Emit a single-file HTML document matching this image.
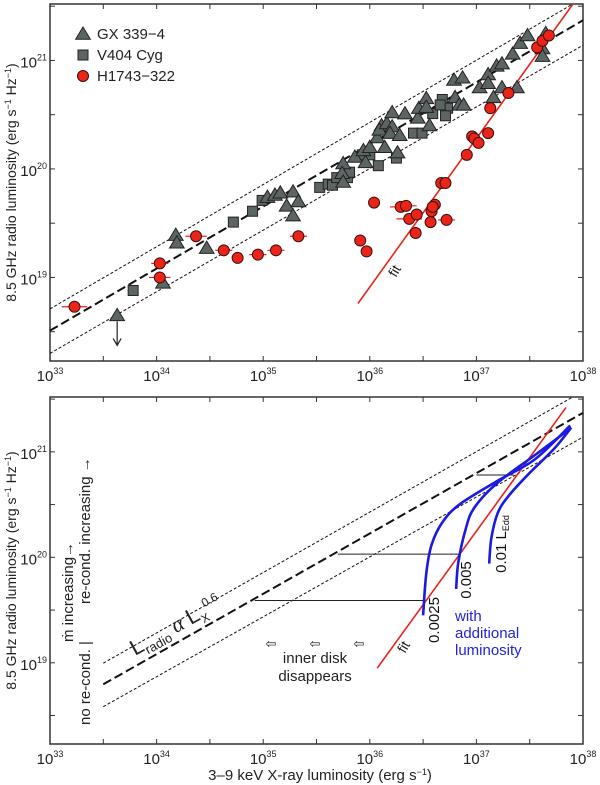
<!DOCTYPE html>
<html><head><meta charset="utf-8"><style>
body{margin:0;background:#fff;}
svg{display:block;font-family:"Liberation Sans",sans-serif;}
</style></head><body>
<svg id="chart" width="600" height="785" viewBox="0 0 600 785" xmlns="http://www.w3.org/2000/svg"></svg>
<script>
// ---- data (log10 units) ----
const gxX = [33.63,34.18,34.19,34.06,34.47,35.28,35.22,35.28,35.33,35.04,35.11,35.16,35.75,35.74,35.75,35.86,35.94,35.96,36.00,36.07,36.11,36.09,36.14,36.16,36.21,36.19,36.28,36.26,36.21,36.33,36.45,36.46,36.53,36.53,36.56,36.80,36.84,36.88,36.79,36.87,37.03,37.11,37.11,37.16,37.24,37.19,37.24,37.34,37.38,37.41,37.48,37.65,37.62,37.62];
const gxY = [18.65,19.39,19.32,18.95,19.27,19.79,19.66,19.57,19.70,19.74,19.76,19.78,20.05,19.96,19.88,20.11,20.17,20.06,20.20,20.29,20.40,20.36,20.20,20.42,20.39,20.33,20.31,20.15,20.52,20.51,20.47,20.56,20.65,20.57,20.40,20.66,20.59,20.59,20.82,20.84,20.75,20.87,20.79,20.66,20.75,20.95,20.97,21.06,20.75,21.16,21.23,21.25,21.11,21.04];
const v404X = [33.78,34.72,34.90,34.99,35.53,35.61,35.65,35.79,35.81,35.69,35.93,36.00,36.08,36.25,36.41,36.49,36.59,36.68,36.73,36.71,36.66];
const v404Y = [18.88,19.51,19.61,19.71,19.83,19.86,19.85,19.92,19.97,19.92,20.13,20.13,20.03,20.10,20.33,20.33,20.51,20.64,20.56,20.49,20.59];
const hX = [33.23,34.03,34.03,34.37,34.63,34.76,34.95,35.12,35.33,36.04,35.91,35.97,36.29,36.34,36.37,36.44,36.43,36.57,36.58,36.61,36.59,36.72,36.67,36.71,36.91,36.96,36.98,37.02,37.11,37.13,37.30,37.57,37.62,37.68];
const hY = [18.73,19.13,19.00,19.38,19.25,19.18,19.21,19.25,19.38,19.69,19.34,19.24,19.65,19.66,19.54,19.58,19.41,19.51,19.61,19.67,19.65,19.53,19.87,19.87,20.13,20.30,20.28,20.24,20.33,20.56,20.70,21.12,21.18,21.23];
const hErr = [0.12,0.08,0.1,0.1,0.08,0,0.08,0.08,0.08,0,0,0,0.1,0.1,0.12,0,0,0,0,0,0,0.08,0,0,0,0,0,0,0,0,0,0,0,0];
const relInt = 18.51, relSlope = 0.572;
const upInt = 18.71, upSlope = 0.573;
const loInt = 18.30, loSlope = 0.568;
const fitX = [35.889, 37.906];
const fitY = [18.76, 21.52];
const fit2X = [36.07, 37.84];
const fit2Y = [18.95, 21.42];
const c1X = [36.50,36.53,36.58,36.68,36.84,37.19,37.55,37.88];
const c1Y = [19.45,19.85,20.12,20.33,20.50,20.72,20.93,21.25];
const c2X = [36.81,36.83,36.90,36.98,37.19,37.55,37.88];
const c2Y = [19.70,19.95,20.27,20.47,20.70,20.97,21.22];
const c3X = [37.12,37.14,37.20,37.30,37.48,37.73,37.89];
const c3Y = [19.94,20.18,20.42,20.58,20.78,21.03,21.23];
const hlX0 = [35.70,34.92,37.00];
const hlX1 = [36.84,36.51,37.35];
const hlY = [20.03,19.59,20.78];
const xTicks = [33,34,35,36,37,38];
const yTicks = [19,20,21];

const NS = "http://www.w3.org/2000/svg";
const svg = document.getElementById('chart');
function el(tag, attrs, parent){const e=document.createElementNS(NS,tag);for(const k in attrs)e.setAttribute(k,attrs[k]);(parent||svg).appendChild(e);return e;}
const X0=50,X1=583,LX0=33,LX1=38,LY0=18.23,LY1=21.52;
function panel(top,bottom){
  return {x:v=>X0+(v-LX0)/(LX1-LX0)*(X1-X0), y:v=>bottom-(v-LY0)/(LY1-LY0)*(bottom-top), top, bottom};
}
const P1=panel(4,361), P2=panel(397,744);

function axes(P,name){
  const g=el('g',{});
  
  
  const r=el('rect',{x:X0,y:P.top,width:X1-X0,height:P.bottom-P.top,fill:'none',stroke:'#333','stroke-width':1.5},g);
  
  
  for(let v=33;v<=38.01;v+=0.5){
    const x=P.x(v);
    el('line',{x1:x,y1:P.bottom,x2:x,y2:P.bottom-5,stroke:'#333','stroke-width':1},g);
    el('line',{x1:x,y1:P.top,x2:x,y2:P.top+5,stroke:'#333','stroke-width':1},g);
  }
  for(let v=18.5;v<=21.51;v+=0.5){
    const y=P.y(v);
    el('line',{x1:X0,y1:y,x2:X0+5,y2:y,stroke:'#333','stroke-width':1},g);
    el('line',{x1:X1,y1:y,x2:X1-5,y2:y,stroke:'#333','stroke-width':1},g);
  }
  xTicks.forEach(v=>{
    const t=el('text',{x:P.x(v),y:P.bottom+20,'font-size':15,'text-anchor':'middle',fill:'#222'},g);
    
    
    t.innerHTML='10<tspan font-size="9" dy="-7">'+v+'</tspan>';
  });
  yTicks.forEach(v=>{
    const t=el('text',{x:X0-3,y:P.y(v)+7,'font-size':15,'text-anchor':'end',fill:'#222'},g);
    
    
    t.innerHTML='10<tspan font-size="9" dy="-7">'+v+'</tspan>';
  });
  const yl=el('text',{x:0,y:0,'font-size':14,'text-anchor':'middle',fill:'#222',transform:'translate(16,'+((P.top+P.bottom)/2)+') rotate(-90)'},g);
  
  
  yl.innerHTML='8.5 GHz  radio luminosity  (erg s<tspan font-size="9" dy="-5">−1</tspan><tspan dy="5"> Hz</tspan><tspan font-size="9" dy="-5">−1</tspan><tspan dy="5">)</tspan>';
}
function relLine(P,a,b,x0,x1,w,dash,name){
  const l=el('line',{x1:P.x(x0),y1:P.y(a+b*(x0-33)),x2:P.x(x1),y2:P.y(a+b*(x1-33)),stroke:'#111','stroke-width':w,'stroke-dasharray':dash});
  
  
}
function clipX(a,b,P){
  return Math.min(38,33+(LY1-a)/b);
}
// ---- top panel ----
axes(P1,'top');
relLine(P1,upInt,upSlope,33,clipX(upInt,upSlope),1,'3,2','upper-bound-line');
relLine(P1,loInt,loSlope,33,38,1,'3,2','lower-bound-line');
relLine(P1,relInt,relSlope,33,38,2,'9,4','correlation-line');
const fl=el('line',{x1:P1.x(fitX[0]),y1:P1.y(fitY[0]),x2:P1.x(fitX[1]),y2:P1.y(fitY[1]),stroke:'#e8231b','stroke-width':1.6});


const ft=el('text',{x:0,y:0,'font-size':14,fill:'#222',transform:'translate(396,278) rotate(-60)'});


ft.textContent='fit';
{const x=P1.x(gxX[0]),y=P1.y(gxY[0]);
 const a=el('path',{d:'M'+x+' '+(y+6)+' V'+(y+30)+' M'+(x-4)+' '+(y+23)+' L'+x+' '+(y+30)+' L'+(x+4)+' '+(y+23),stroke:'#222',fill:'none','stroke-width':1.2});
 
 }
function tri(cx,cy,s){return 'M'+cx+' '+(cy-s)+' L'+(cx+s*1.05)+' '+(cy+s*0.75)+' L'+(cx-s*1.05)+' '+(cy+s*0.75)+' Z';}
v404X.forEach((v,i)=>{
  const r=el('rect',{x:P1.x(v)-5,y:P1.y(v404Y[i])-5,width:10,height:10,fill:'#5d6564',stroke:'#222','stroke-width':1});
  
  
});
gxX.forEach((v,i)=>{
  const p=el('path',{d:tri(P1.x(v),P1.y(gxY[i]),7),fill:'#5d6564',stroke:'#222','stroke-width':1});
  
  
});
hX.forEach((v,i)=>{
  const cx=P1.x(v),cy=P1.y(hY[i]);
  if(hErr[i]>0){
    const e=el('line',{x1:P1.x(v-hErr[i]),y1:cy,x2:P1.x(v+hErr[i]),y2:cy,stroke:'#e8231b','stroke-width':1.2});
    
    
  }
  const c=el('circle',{cx:cx,cy:cy,r:5.5,fill:'#ec2418',stroke:'#3a1010','stroke-width':1});
  
  
});
{
 const g=el('g',{});
 
 
 el('path',{d:tri(83,34,7),fill:'#5d6564',stroke:'#222'},g);
 el('rect',{x:78,y:50,width:10,height:10,fill:'#5d6564',stroke:'#222'},g);
 el('circle',{cx:83,cy:76,r:5.5,fill:'#ec2418',stroke:'#3a1010'},g);
 [['GX 339−4',39],['V404 Cyg',60],['H1743−322',81]].forEach(a=>{
  const t=el('text',{x:97,y:a[1],'font-size':15,fill:'#222'},g);
  
  
  t.textContent=a[0];
 });
}
// ---- bottom panel ----
axes(P2,'bottom');
relLine(P2,upInt,upSlope,33.5,clipX(upInt,upSlope),1,'3,2','upper-bound-line-2');
relLine(P2,loInt,loSlope,33.5,38,1,'3,2','lower-bound-line-2');
relLine(P2,relInt,relSlope,33.5,38,2,'9,4','correlation-line-2');
hlY.forEach((v,i)=>{
  const l=el('line',{x1:P2.x(hlX0[i]),y1:P2.y(v),x2:P2.x(hlX1[i]),y2:P2.y(v),stroke:'#222','stroke-width':1});
  
  
});
const fl2=el('line',{x1:P2.x(fit2X[0]),y1:P2.y(fit2Y[0]),x2:P2.x(fit2X[1]),y2:P2.y(fit2Y[1]),stroke:'#e8231b','stroke-width':1.6});


[[c1X,c1Y,'curve-0.0025'],[c2X,c2Y,'curve-0.005'],[c3X,c3Y,'curve-0.01']].forEach(c=>{
  const pts=c[0].map((v,i)=>[P2.x(v),P2.y(c[1][i])]);
  let d='M'+pts[0][0]+' '+pts[0][1];
  for(let i=1;i<pts.length;i++){
    const p0=pts[Math.max(0,i-2)],p1=pts[i-1],p2=pts[i],p3=pts[Math.min(pts.length-1,i+1)];
    const c1=[p1[0]+(p2[0]-p0[0])/6,p1[1]+(p2[1]-p0[1])/6],c2=[p2[0]-(p3[0]-p1[0])/6,p2[1]-(p3[1]-p1[1])/6];
    d+=' C'+c1[0]+' '+c1[1]+' '+c2[0]+' '+c2[1]+' '+p2[0]+' '+p2[1];
  }
  const p=el('path',{d:d,fill:'none',stroke:'#1a1ae0','stroke-width':2.6});
  
  
});
function txt(name,x,y,size,str,rot,color,anchor){
  const t=el('text',{x:0,y:0,'font-size':size,fill:color||'#222','text-anchor':anchor||'start',transform:'translate('+x+','+y+') rotate('+(rot||0)+')'});
  
  
  t.innerHTML=str;return t;
}
txt('fit-label-2',405,654,14,'fit',-60);
txt('label-0.0025',439,620,15,'0.0025',-90,'#111','middle');
txt('label-0.005',471,580,15,'0.005',-90,'#111','middle');
txt('label-0.01-ledd',506,544,15,'0.01 L<tspan font-size="9" dy="3">Edd</tspan>',-90,'#111','middle');
txt('additional-luminosity-label',455,621,15,'with','', '#2222dd');
txt('additional-luminosity-label',455,638,15,'additional','', '#2222dd');
txt('additional-luminosity-label',455,655,15,'luminosity','', '#2222dd');
txt('inner-disk-label',315,663,15,'inner disk',0,'#222','middle');
txt('inner-disk-label',315,681,15,'disappears',0,'#222','middle');
[271,315,359].forEach(x=>txt('left-arrow',x,648,13,'⇦',0,'#222','middle'));
txt('relation-label',135,656,22,'L<tspan font-size="13" dy="5">radio</tspan><tspan dy="-5" font-family="Liberation Serif" font-style="italic"> α </tspan>L<tspan font-size="12" dy="5">X</tspan><tspan font-size="12" dy="-14">0.6</tspan>',-29);
txt('no-recond-label',90,725,15,'no re-cond. |',-90);
txt('recond-increasing-label',90,604,15,'re-cond. increasing →',-90);
txt('mdot-increasing-label',73,642,15,'ṁ  increasing→',-90);
txt('x-axis-title',320,780,15,'3–9 keV  X-ray luminosity  (erg s<tspan font-size="9" dy="-5">−1</tspan><tspan dy="5">)</tspan>',0,'#222','middle');
</script>
</body></html>
